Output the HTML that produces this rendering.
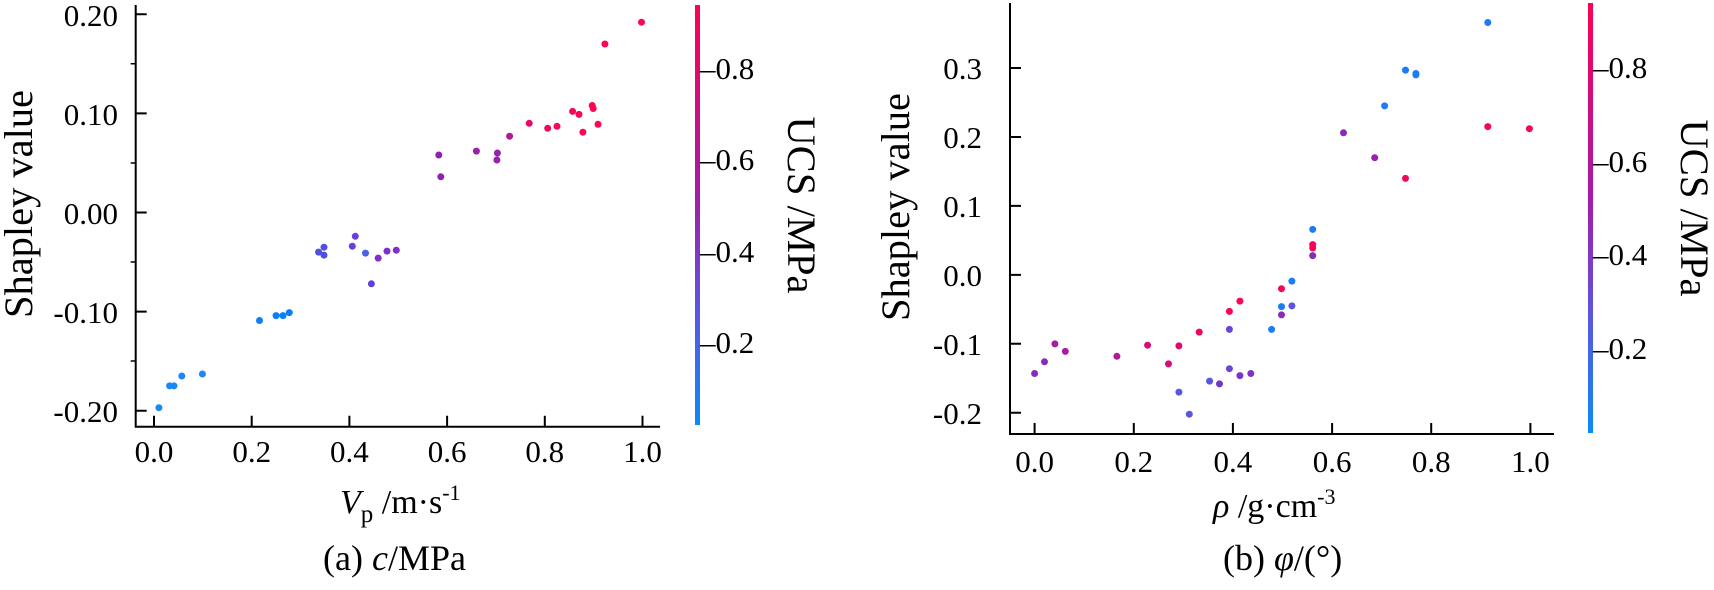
<!DOCTYPE html>
<html><head><meta charset="utf-8"><style>
html,body{margin:0;padding:0;background:#fff;}
svg{display:block;}
text{font-family:"Liberation Serif",serif;fill:#000;}
</style></head><body>
<svg width="1714" height="590" viewBox="0 0 1714 590" xmlns="http://www.w3.org/2000/svg">
<defs>
<linearGradient id="cb" x1="0" y1="0" x2="0" y2="1">
<stop offset="0" stop-color="#ff0052"/>
<stop offset="0.45" stop-color="#a51aa8"/>
<stop offset="0.72" stop-color="#5c55e0"/>
<stop offset="1" stop-color="#0a8afb"/>
</linearGradient>
</defs>
<g stroke="#000" stroke-width="2" fill="none">
<path d="M135.7 5 V426.7 H660"/>
<path d="M135.7 14.3 h11 M135.7 113.4 h11 M135.7 212.5 h11 M135.7 311.6 h11 M135.7 410.7 h11"/>
<path d="M135.7 63.8 h-5 M135.7 163 h-5 M135.7 262 h-5 M135.7 361 h-5" stroke-width="1.5"/>
<path d="M154 426.7 v-11 M251.7 426.7 v-11 M349.4 426.7 v-11 M447.1 426.7 v-11 M544.8 426.7 v-11 M642.5 426.7 v-11"/>
<path d="M1010 3 V434 H1554"/>
<path d="M1010 68 h11 M1010 137 h11 M1010 205.9 h11 M1010 274.9 h11 M1010 343.8 h11 M1010 412.8 h11"/>
<path d="M1034.6 434 v-11 M1133.8 434 v-11 M1232.9 434 v-11 M1332.1 434 v-11 M1431.2 434 v-11 M1530.4 434 v-11"/>
</g>
<rect x="695" y="5" width="5" height="420" fill="url(#cb)"/>
<rect x="1588" y="3" width="5" height="430" fill="url(#cb)"/>

<g font-size="31" text-anchor="end">
<text x="118" y="26">0.20</text>
<text x="118" y="125">0.10</text>
<text x="118" y="224">0.00</text>
<text x="118" y="323">-0.10</text>
<text x="118" y="422">-0.20</text>
<text x="982" y="79">0.3</text>
<text x="982" y="148">0.2</text>
<text x="982" y="217">0.1</text>
<text x="982" y="286">0.0</text>
<text x="982" y="355">-0.1</text>
<text x="982" y="424">-0.2</text>
</g>
<g font-size="31" text-anchor="middle">
<text x="154" y="462">0.0</text>
<text x="251.7" y="462">0.2</text>
<text x="349.4" y="462">0.4</text>
<text x="447.1" y="462">0.6</text>
<text x="544.8" y="462">0.8</text>
<text x="642.5" y="462">1.0</text>
<text x="1034.6" y="472">0.0</text>
<text x="1133.8" y="472">0.2</text>
<text x="1232.9" y="472">0.4</text>
<text x="1332.1" y="472">0.6</text>
<text x="1431.2" y="472">0.8</text>
<text x="1530.4" y="472">1.0</text>
</g>
<g font-size="31">
<text x="700" y="79">–0.8</text>
<text x="700" y="170">–0.6</text>
<text x="700" y="262">–0.4</text>
<text x="700" y="353">–0.2</text>
<text x="1593" y="78">–0.8</text>
<text x="1593" y="172">–0.6</text>
<text x="1593" y="265">–0.4</text>
<text x="1593" y="359">–0.2</text>
</g>
<text font-size="40" text-anchor="middle" textLength="228" lengthAdjust="spacingAndGlyphs" transform="translate(32,204) rotate(-90)">Shapley value</text>
<text font-size="40" text-anchor="middle" textLength="228" lengthAdjust="spacingAndGlyphs" transform="translate(909,207) rotate(-90)">Shapley value</text>
<text font-size="40" text-anchor="middle" textLength="177" lengthAdjust="spacingAndGlyphs" transform="translate(788,205) rotate(90)">UCS /MPa</text>
<text font-size="40" text-anchor="middle" textLength="177" lengthAdjust="spacingAndGlyphs" transform="translate(1681,208) rotate(90)">UCS /MPa</text>

<text x="340" y="513" font-size="34"><tspan font-style="italic">V</tspan><tspan font-size="25" dy="9">p</tspan><tspan dy="-9"> /m·s</tspan><tspan font-size="22" dy="-13">-1</tspan></text>
<text x="323" y="570" font-size="36">(a) <tspan font-style="italic">c</tspan>/MPa</text>
<text x="1213" y="517" font-size="34"><tspan font-style="italic">ρ</tspan> /g·cm<tspan font-size="22" dy="-13">-3</tspan></text>
<text x="1223" y="570" font-size="36">(b) <tspan font-style="italic">φ</tspan>/(°)</text>

<g>
<circle cx="158.9" cy="407.7" r="3.5" fill="#1a88f8"/>
<circle cx="169.6" cy="385.9" r="3.5" fill="#1a88f8"/>
<circle cx="174.0" cy="385.9" r="3.5" fill="#1a88f8"/>
<circle cx="181.8" cy="376.0" r="3.5" fill="#1a88f8"/>
<circle cx="202.4" cy="374.0" r="3.5" fill="#1a88f8"/>
<circle cx="259.5" cy="320.5" r="3.5" fill="#0a80f8"/>
<circle cx="276.1" cy="315.6" r="3.5" fill="#0a80f8"/>
<circle cx="283.0" cy="315.6" r="3.5" fill="#0a80f8"/>
<circle cx="289.3" cy="312.6" r="3.5" fill="#0a80f8"/>
<circle cx="318.6" cy="252.1" r="3.5" fill="#5050e0"/>
<circle cx="324.0" cy="247.2" r="3.5" fill="#5050e0"/>
<circle cx="324.0" cy="255.1" r="3.5" fill="#5050e0"/>
<circle cx="352.3" cy="246.2" r="3.5" fill="#6a40d8"/>
<circle cx="355.3" cy="236.3" r="3.5" fill="#6a40d8"/>
<circle cx="365.5" cy="253.1" r="3.5" fill="#4a60e8"/>
<circle cx="371.4" cy="283.8" r="3.5" fill="#6040d8"/>
<circle cx="378.2" cy="258.1" r="3.5" fill="#8030c8"/>
<circle cx="387.0" cy="251.1" r="3.5" fill="#8030c8"/>
<circle cx="396.3" cy="250.2" r="3.5" fill="#8030c8"/>
<circle cx="438.8" cy="155.0" r="3.5" fill="#9020b0"/>
<circle cx="440.8" cy="176.8" r="3.5" fill="#9020b0"/>
<circle cx="476.4" cy="151.1" r="3.5" fill="#9a20b0"/>
<circle cx="497.4" cy="153.0" r="3.5" fill="#9a20b0"/>
<circle cx="496.9" cy="160.0" r="3.5" fill="#9a20b0"/>
<circle cx="509.6" cy="136.2" r="3.5" fill="#b01898"/>
<circle cx="529.2" cy="123.3" r="3.5" fill="#e8086a"/>
<circle cx="547.7" cy="128.3" r="3.5" fill="#f0085e"/>
<circle cx="557.0" cy="126.3" r="3.5" fill="#f0085e"/>
<circle cx="572.6" cy="111.4" r="3.5" fill="#f80556"/>
<circle cx="579.0" cy="114.4" r="3.5" fill="#f80556"/>
<circle cx="582.9" cy="132.2" r="3.5" fill="#f80556"/>
<circle cx="592.2" cy="105.5" r="3.5" fill="#ff0552"/>
<circle cx="593.2" cy="108.5" r="3.5" fill="#ff0552"/>
<circle cx="598.0" cy="124.3" r="3.5" fill="#ff0552"/>
<circle cx="604.9" cy="44.0" r="3.5" fill="#ff0552"/>
<circle cx="641.5" cy="22.2" r="3.5" fill="#ff0552"/>
</g>
<g>
<circle cx="1034.6" cy="373.5" r="3.5" fill="#8a2ab8"/>
<circle cx="1044.5" cy="361.8" r="3.5" fill="#8a2ab8"/>
<circle cx="1054.9" cy="343.9" r="3.5" fill="#a81da0"/>
<circle cx="1065.3" cy="351.4" r="3.5" fill="#a81da0"/>
<circle cx="1116.9" cy="356.3" r="3.5" fill="#b0189a"/>
<circle cx="1147.6" cy="345.2" r="3.5" fill="#d80c75"/>
<circle cx="1168.5" cy="363.9" r="3.5" fill="#d80c75"/>
<circle cx="1178.9" cy="345.9" r="3.5" fill="#e00a6e"/>
<circle cx="1178.9" cy="392.1" r="3.5" fill="#5a55e0"/>
<circle cx="1189.3" cy="414.2" r="3.5" fill="#5a55e0"/>
<circle cx="1199.2" cy="332.1" r="3.5" fill="#f00560"/>
<circle cx="1209.6" cy="381.1" r="3.5" fill="#5a55e0"/>
<circle cx="1219.5" cy="383.9" r="3.5" fill="#7035cc"/>
<circle cx="1229.4" cy="311.4" r="3.5" fill="#f80558"/>
<circle cx="1229.4" cy="329.4" r="3.5" fill="#6a45d8"/>
<circle cx="1229.4" cy="368.7" r="3.5" fill="#6a45d8"/>
<circle cx="1239.9" cy="301.1" r="3.5" fill="#f80558"/>
<circle cx="1239.9" cy="375.6" r="3.5" fill="#7a35c8"/>
<circle cx="1250.8" cy="373.5" r="3.5" fill="#7a35c8"/>
<circle cx="1271.6" cy="329.4" r="3.5" fill="#1a7cf8"/>
<circle cx="1281.5" cy="288.7" r="3.5" fill="#f80558"/>
<circle cx="1281.5" cy="306.6" r="3.5" fill="#1a7cf8"/>
<circle cx="1281.5" cy="314.9" r="3.5" fill="#8a2ab8"/>
<circle cx="1291.9" cy="281.1" r="3.5" fill="#1a7cf8"/>
<circle cx="1291.9" cy="305.9" r="3.5" fill="#5a55e0"/>
<circle cx="1312.7" cy="229.4" r="3.5" fill="#1a7cf8"/>
<circle cx="1312.7" cy="244.6" r="3.5" fill="#f80558"/>
<circle cx="1312.7" cy="248.0" r="3.5" fill="#f80558"/>
<circle cx="1312.7" cy="255.6" r="3.5" fill="#8a2ab8"/>
<circle cx="1343.5" cy="132.8" r="3.5" fill="#8a2ab8"/>
<circle cx="1374.7" cy="157.7" r="3.5" fill="#9a20b0"/>
<circle cx="1384.6" cy="105.9" r="3.5" fill="#1a7cf8"/>
<circle cx="1405.5" cy="70.1" r="3.5" fill="#1a7cf8"/>
<circle cx="1405.5" cy="178.4" r="3.5" fill="#f80558"/>
<circle cx="1415.9" cy="73.5" r="3.5" fill="#1a7cf8"/>
<circle cx="1415.9" cy="74.9" r="3.5" fill="#1a7cf8"/>
<circle cx="1487.8" cy="22.5" r="3.5" fill="#1a7cf8"/>
<circle cx="1487.8" cy="126.6" r="3.5" fill="#f80558"/>
<circle cx="1529.4" cy="128.7" r="3.5" fill="#f80558"/>
</g>
</svg>
</body></html>
